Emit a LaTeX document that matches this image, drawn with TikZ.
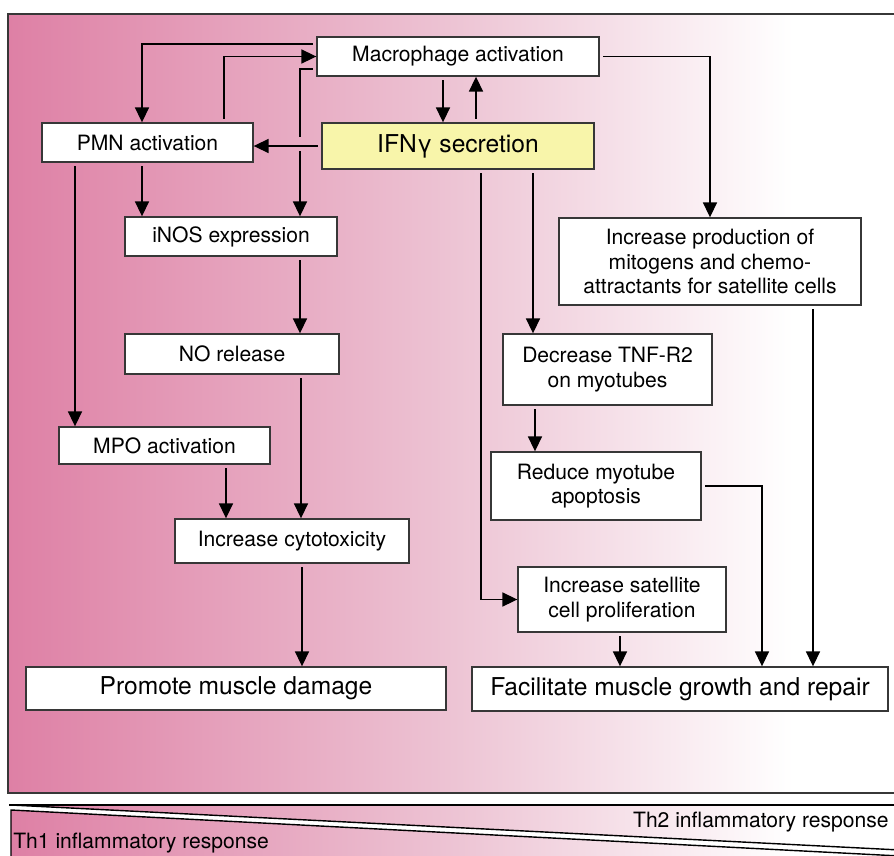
\documentclass[tikz,border=0pt]{standalone}
\usepackage{fontspec}
\setmainfont{TeX Gyre Heros}
\usetikzlibrary{arrows.meta}
\definecolor{thpink}{RGB}{222,128,165}
\definecolor{thmid}{RGB}{237,196,212}
\definecolor{ifnyellow}{RGB}{248,245,170}
\definecolor{boxline}{RGB}{55,55,55}
\pgfdeclarehorizontalshading{thshade}{100bp}{color(0bp)=(thpink); color(25bp)=(thpink); color(50bp)=(thmid); color(69bp)=(white); color(100bp)=(white)}
\begin{document}
\begin{tikzpicture}[x=0.02cm, y=-0.02cm,
  box/.style={draw=boxline, fill=white, line width=0.8pt, align=center, inner sep=0pt, font=\fontsize{12}{14}\selectfont},
  bigbox/.style={box, font=\fontsize{14}{17}\selectfont},
  arr/.style={-{Triangle[length=8.5pt,width=8pt]}, line width=0.75pt, shorten <=2pt}]
\useasboundingbox (0,0) rectangle (894,856);
\clip (0,0) rectangle (894,856);
% background panel and Th1/Th2 strip
\shadedraw[shading=thshade, draw=boxline, line width=0.8pt] (8,14) rectangle (900,793);
\shadedraw[shading=thshade, draw=black, line width=0.8pt] (11,805) -- (900,805) -- (900,850) -- cycle;
\shadedraw[shading=thshade, draw=black, line width=0.8pt] (11,870) -- (11,810) -- (900,856) -- (900,870) -- cycle;
\draw[black, line width=0.8pt] (9,805) -- (900,805);
\node[anchor=west, inner sep=0pt, font=\fontsize{12}{14}\selectfont] (thone) at (13,843) {Th1 inflammatory response};
\node[anchor=east, inner sep=0pt, font=\fontsize{12}{14}\selectfont] (thtwo) at (889,822) {Th2 inflammatory response};
% boxes
\node[box, minimum width=5.64cm, minimum height=0.78cm] (mac) at (458,56.5) {Macrophage activation};
\node[bigbox, fill=ifnyellow, minimum width=5.44cm, minimum height=0.92cm] (ifn) at (458,146) {IFNγ secretion};
\node[box, minimum width=4.22cm, minimum height=0.78cm] (pmn) at (147.5,142.5) {PMN activation};
\node[box, minimum width=4.24cm, minimum height=0.78cm] (inos) at (231,236.5) {iNOS expression};
\node[box, minimum width=4.28cm, minimum height=0.80cm] (norel) at (232,354) {NO release};
\node[box, minimum width=4.22cm, minimum height=0.74cm] (mpo) at (164.5,445.5) {MPO activation};
\node[box, minimum width=4.68cm, minimum height=0.88cm] (cyto) at (292,541) {Increase cytotoxicity};
\node[bigbox, minimum width=8.40cm, minimum height=0.86cm] (dmg) at (236,688.5) {Promote muscle damage};
\node[bigbox, minimum width=8.32cm, minimum height=0.88cm] (fac) at (680,689) {Facilitate muscle growth and repair};
\node[box, minimum width=6.04cm, minimum height=1.74cm] (prod) at (710,261.5) {Increase production of\\mitogens and chemo-\\attractants for satellite cells};
\node[box, minimum width=4.18cm, minimum height=1.42cm] (tnf) at (607.5,369.5) {Decrease TNF-R2\\on myotubes};
\node[box, minimum width=4.20cm, minimum height=1.36cm] (red) at (596,486) {Reduce myotube\\apoptosis};
\node[box, minimum width=4.16cm, minimum height=1.30cm] (sat) at (622,599.5) {Increase satellite\\cell proliferation};
% connectors
\coordinate (gapup) at (300,137);
\coordinate (gapdown) at (300,151);
\draw[arr] ([yshift=0.25cm]mac.west) -| (142,0 |- pmn.north);
\draw[arr] (224,0 |- pmn.north) |- (mac.west);
\draw[line width=0.75pt, shorten <=2pt] ([yshift=-0.25cm]mac.west) -| (gapup);
\draw[arr, shorten <=0pt] (gapdown) -- (gapdown |- inos.north);
\draw[arr] (443,0 |- mac.south) -- (443,0 |- ifn.north);
\draw[arr] (476,0 |- ifn.north) -- (476,0 |- mac.south);
\draw[arr] (ifn.west) -- (ifn.west -| pmn.east);
\draw[arr] (mac.east) -| (prod.north);
\draw[arr] (142,0 |- pmn.south) -- (142,0 |- inos.north);
\draw[arr] (75,0 |- pmn.south) -- (75,0 |- mpo.north);
\draw[arr] (300,0 |- inos.south) -- (300,0 |- norel.north);
\draw[arr] (301,0 |- norel.south) -- (301,0 |- cyto.north);
\draw[arr] (226,0 |- mpo.south) -- (226,0 |- cyto.north);
\draw[arr] (302,0 |- cyto.south) -- (302,0 |- dmg.north);
\draw[arr] (533,0 |- ifn.south) -- (533,0 |- tnf.north);
\draw[arr] (481,0 |- ifn.south) |- (sat.west);
\draw[arr] (535,0 |- tnf.south) -- (535,0 |- red.north);
\draw[arr] (red.east) -| (762,0 |- fac.north);
\draw[arr] (813,0 |- prod.south) -- (813,0 |- fac.north);
\draw[arr] (620,0 |- sat.south) -- (620,0 |- fac.north);
\end{tikzpicture}
\end{document}
